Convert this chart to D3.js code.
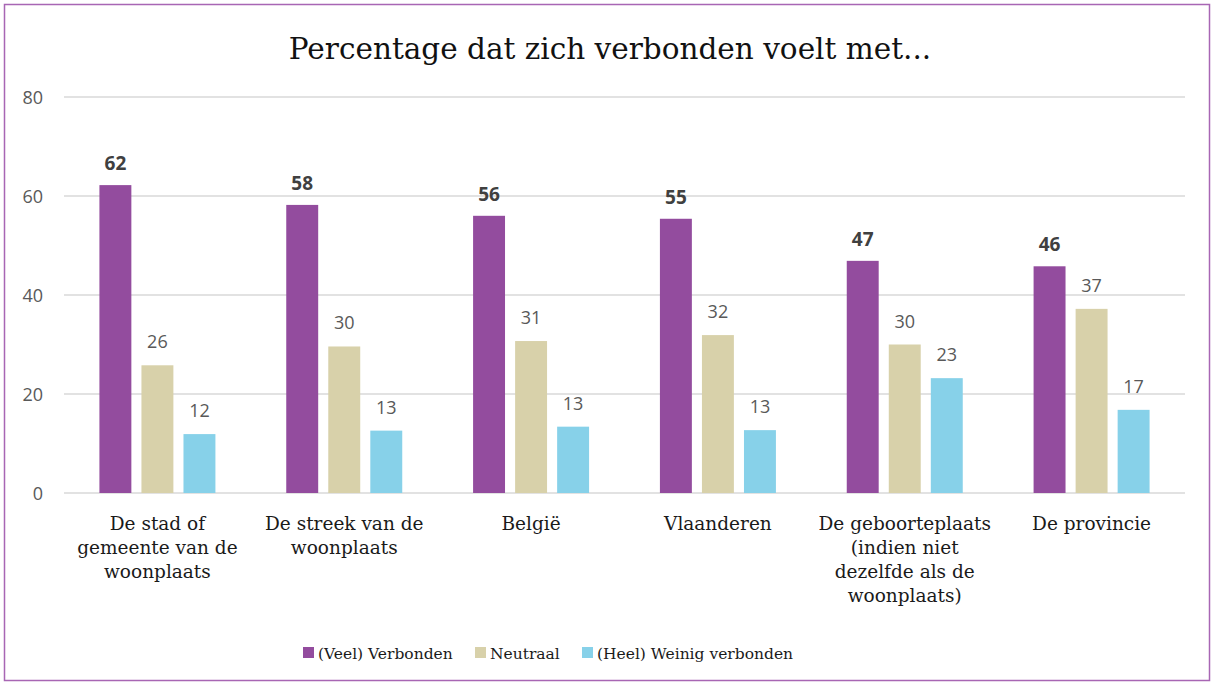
<!DOCTYPE html>
<html>
<head>
<meta charset="utf-8">
<title>Percentage dat zich verbonden voelt met...</title>
<style>
  body { margin: 0; background: #fff; }
  .serif { font-family: "DejaVu Serif", serif; }
  .sans { font-family: "Open Sans", "Noto Sans", sans-serif; }
</style>
</head>
<body>
<svg width="1211" height="682"></svg>
<script src="https://d3js.org/d3.v7.min.js"></script>
<script>
// data
var categories = [
  ["De stad of", "gemeente van de", "woonplaats"],
  ["De streek van de", "woonplaats"],
  ["België"],
  ["Vlaanderen"],
  ["De geboorteplaats", "(indien niet", "dezelfde als de", "woonplaats)"],
  ["De provincie"]
];
var seriesNames = ["(Veel) Verbonden", "Neutraal", "(Heel) Weinig verbonden"];
var verbonden = [62.2, 58.2, 56.0, 55.4, 46.9, 45.8];
var neutraal = [25.8, 29.6, 30.7, 31.9, 30.0, 37.2];
var weinig = [11.9, 12.6, 13.4, 12.7, 23.2, 16.8];
var yTicks = [0, 20, 40, 60, 80];

var colors = ["#934c9e", "#d8d1aa", "#87d1e9"];
var allSeries = [verbonden, neutraal, weinig];

var svg = d3.select("svg");

// frame
svg.append("rect")
  .attr("x", 4.5).attr("y", 4.5)
  .attr("width", 1211 - 6).attr("height", 682 - 6)
  .attr("fill", "none")
  .attr("stroke", "#a866b4")
  .attr("stroke-width", 1.5);

var plotLeft = 64, plotRight = 1185, plotTop = 97, plotBottom = 493;

var x = d3.scaleBand()
  .domain(d3.range(categories.length))
  .range([plotLeft, plotRight]);

var groupW = 116;
var xs = d3.scaleBand()
  .domain(d3.range(seriesNames.length))
  .range([0, groupW])
  .paddingInner(0.24);

var y = d3.scaleLinear().domain([0, 80]).range([plotBottom, plotTop]);

function barX(i, s) {
  return x(i) + x.bandwidth() / 2 - groupW / 2 + xs(s);
}

// gridlines
svg.append("g")
  .selectAll("line")
  .data(yTicks)
  .enter().append("line")
  .attr("x1", plotLeft).attr("x2", plotRight)
  .attr("y1", function (d) { return y(d); })
  .attr("y2", function (d) { return y(d); })
  .attr("stroke", "#d9d9d9")
  .attr("stroke-width", 1.3);

// y labels
svg.append("g")
  .selectAll("text")
  .data(yTicks)
  .enter().append("text")
  .attr("class", "sans")
  .attr("x", 43)
  .attr("y", function (d) { return y(d) + 6.5; })
  .attr("text-anchor", "end")
  .attr("font-size", 18)
  .attr("fill", "#595959")
  .text(function (d) { return d; });

// bars
allSeries.forEach(function (vals, s) {
  var g = svg.append("g");
  g.selectAll("rect")
    .data(vals)
    .enter().append("rect")
    .attr("x", function (d, i) { return barX(i, s); })
    .attr("y", function (d) { return y(d); })
    .attr("width", xs.bandwidth())
    .attr("height", function (d) { return y(0) - y(d); })
    .attr("fill", colors[s]);

  g.selectAll("text")
    .data(vals)
    .enter().append("text")
    .attr("class", "sans")
    .attr("x", function (d, i) { return barX(i, s) + xs.bandwidth() / 2; })
    .attr("y", function (d) { return y(d) - (s === 0 ? 15 : 17); })
    .attr("text-anchor", "middle")
    .attr("font-size", s === 0 ? 19 : 18)
    .attr("font-weight", s === 0 ? "bold" : "normal")
    .attr("fill", s === 0 ? "#404040" : "#595959")
    .text(function (d) { return d3.format(".0f")(d); });
});

// category labels
var cat = svg.append("g")
  .selectAll("text")
  .data(categories)
  .enter().append("text")
  .attr("class", "serif")
  .attr("text-anchor", "middle")
  .attr("font-size", 18.5)
  .attr("fill", "#1a1a1a");

cat.selectAll("tspan")
  .data(function (d, i) { return d.map(function (t) { return { t: t, i: i }; }); })
  .enter().append("tspan")
  .attr("x", function (d) { return x(d.i) + x.bandwidth() / 2; })
  .attr("y", function (d, j) { return 530 + j * 24; })
  .text(function (d) { return d.t; });

// title
svg.append("text")
  .attr("class", "serif")
  .attr("x", 610)
  .attr("y", 59)
  .attr("text-anchor", "middle")
  .attr("font-size", 29.5)
  .attr("fill", "#111")
  .text("Percentage dat zich verbonden voelt met...");

// legend
var legendX = [303, 475, 582];
var leg = svg.append("g")
  .selectAll("g")
  .data(seriesNames)
  .enter().append("g")
  .attr("transform", function (d, i) { return "translate(" + legendX[i] + ",647)"; });

leg.append("rect")
  .attr("width", 11).attr("height", 11)
  .attr("fill", function (d, i) { return colors[i]; });

leg.append("text")
  .attr("class", "serif")
  .attr("x", 15)
  .attr("y", 11.5)
  .attr("font-size", 15.5)
  .attr("fill", "#1a1a1a")
  .text(function (d) { return d; });
</script>
</body>
</html>
